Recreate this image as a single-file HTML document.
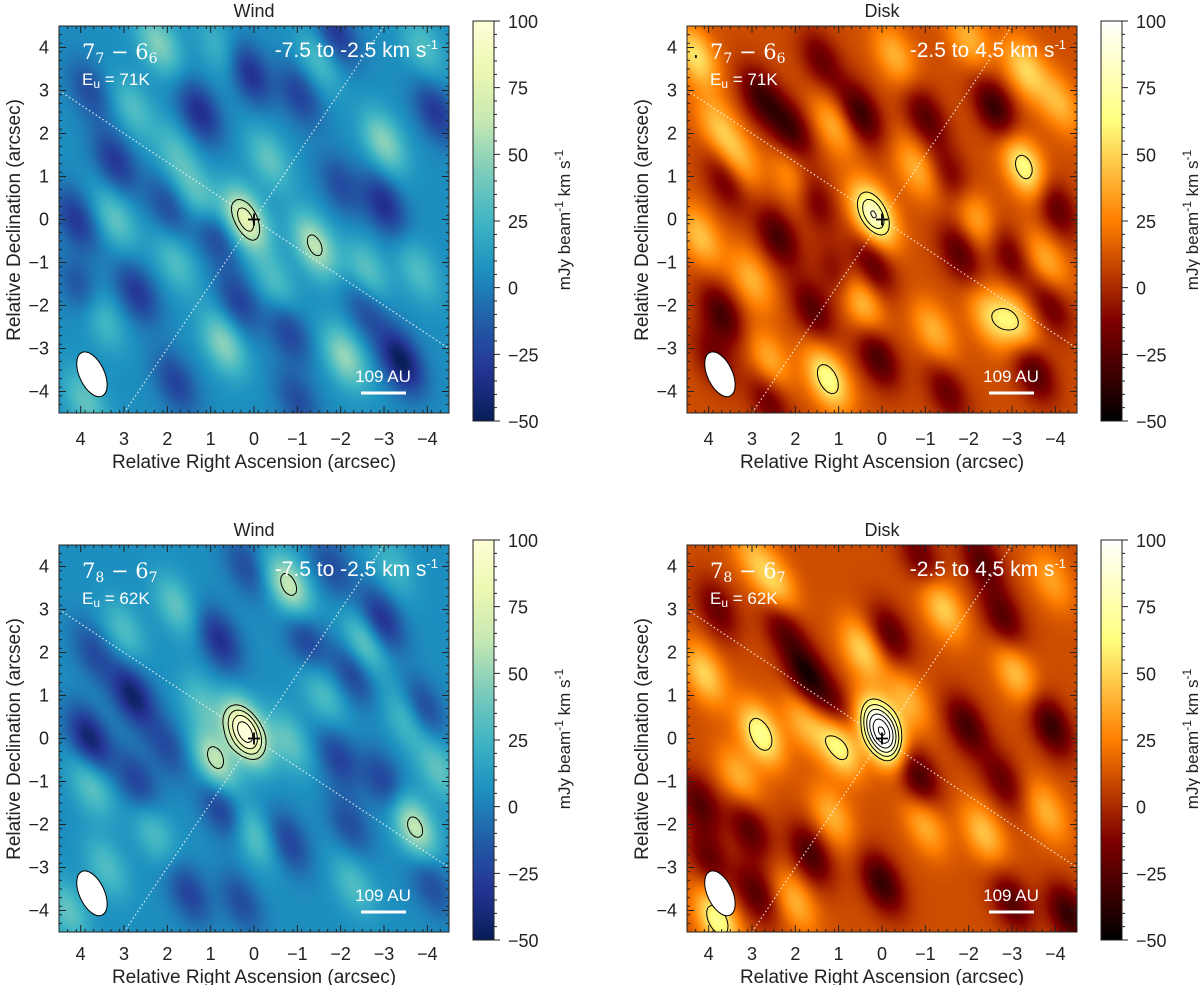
<!DOCTYPE html>
<html><head><meta charset="utf-8">
<style>
body{margin:0;background:#fff;}
#root{position:relative;width:1200px;height:985px;overflow:hidden;font-family:"Liberation Sans",sans-serif;}
canvas{position:absolute;}
svg{position:absolute;left:0;top:0;}
</style></head>
<body>
<div id="root">
<canvas id="c0" width="390" height="387" style="left:59px;top:26px"></canvas>
<canvas id="c1" width="390" height="387" style="left:687px;top:26px"></canvas>
<canvas id="c2" width="390" height="387" style="left:59px;top:545px"></canvas>
<canvas id="c3" width="390" height="387" style="left:687px;top:545px"></canvas>
<canvas id="cb0" width="21" height="400" style="left:473px;top:21px"></canvas>
<canvas id="cb1" width="21" height="400" style="left:1101px;top:21px"></canvas>
<canvas id="cb2" width="21" height="400" style="left:473px;top:540px"></canvas>
<canvas id="cb3" width="21" height="400" style="left:1101px;top:540px"></canvas>
<svg id="ov" width="1200" height="985"></svg>
</div>
<script>
// data: [RA arcsec, Dec arcsec, amplitude mJy]
const windA_base = 5;
const windA_blobs = [[0.2,0,75],[-3.0,1.8,42],[2.2,4.1,40],[0.7,-2.9,42],[-2.1,-3.2,45],[-1.4,-0.6,56],[3.2,0,30],[1.25,0.5,30],[3.9,-4.2,30],[-0.35,1.4,30],
 [1.25,2.5,-40],[0.1,3.4,-40],[3.2,1.35,-35],[-3.0,0.35,-40],[-3.4,-3.3,-55],[4.1,0,-35],[2.7,-1.7,-35],[0.9,-0.35,-30],[0.35,-1.9,-30],[-4.2,2.5,-35],[-1.05,2.9,-30],[-1.9,4.3,-35],
 [1.8,1.5,25],[2.8,2.6,25],[-0.5,-1.5,25],[-2.6,-1.2,30],[3.5,-2.3,25],[-3.8,-1.2,25],[-1.5,3.7,25],[0.8,4.0,20],[-3.9,4.0,25],[1.8,-1.0,25],
 [2.0,0.3,-25],[-2.0,0.8,-25],[-0.8,-2.6,-30],[1.8,-3.8,-30],[-2.6,-2.1,-25],[3.8,3.0,-25],[4.0,-1.6,-25],[-1.0,-4.2,-25]];
const diskA_base = 10;
const diskA_blobs = [[0.2,0.1,78],[4.3,3.8,45],[1.25,-3.7,57],[0.5,-1.9,40],[-3.1,-2.4,45],[-3.3,1.2,58],[4.2,-0.4,35],[3.3,1.4,30],[1.1,2.2,30],[-3.3,3.5,40],[-2.5,-2.3,35],
 [0.5,2.45,-45],[2.1,2.1,-40],[2.8,2.85,-40],[1.6,0.5,-35],[2.4,-0.4,-40],[3.7,-2.2,-40],[0.1,-3.2,-40],[-2.6,2.6,-45],[-1.0,2.4,-35],[0.2,-1.05,-35],[-1.8,-0.8,-35],[1.4,3.7,-30],[1.6,-2.1,-35],[-3.5,-3.5,-40],[-4.0,0.3,-35],
 [3.8,2.2,30],[2.0,0.9,30],[-0.8,1.2,30],[-2.2,0.0,30],[-1.2,-2.6,30],[2.6,-3.3,30],[-3.8,-1.0,30],[3.0,-1.4,30],[-0.3,3.8,30],[-2.0,4.2,30],[-4.1,2.7,30],
 [3.6,0.9,-30],[-2.9,-0.8,-30],[-1.5,-4.0,-30],[2.6,-4.2,-30],[-3.9,-2.0,-30],[3.9,-3.2,-25],[-1.6,1.0,-25],[1.0,-1.3,-25]];
const windB_base = 5;
const windB_blobs = [[0.2,0.15,105],[0.9,-0.55,58],[-0.8,3.55,60],[-3.7,-2.05,60],[1.8,3.1,30],[3.75,-1.1,30],[-2.55,2.2,35],[-0.8,-0.05,30],[0,-2.25,30],[-4.25,-0.7,30],[4.3,-4.0,30],
 [2.8,1.0,-50],[3.8,0,-50],[0.8,2.3,-40],[-2.95,2.75,-40],[-2.3,1.5,-30],[0.75,-1.6,-35],[2.7,-1.0,-30],[-0.8,-2.4,-30],[1.5,-3.6,-30],[-3.9,0.7,-30],[-1.95,-0.45,-30],
 [3.0,2.5,25],[-1.6,1.0,25],[-3.5,0.5,25],[2.3,-2.2,25],[-2.3,-3.4,25],[1.2,0.8,25],[3.4,-3.0,25],[-3.2,4.0,20],
 [-1.2,2.3,-30],[2.0,-0.2,-25],[-3.0,-1.0,-30],[3.7,2.0,-25],[-2.2,-2.0,-25],[0.3,-3.8,-25],[-4.1,-3.4,-25],[0.2,4.0,-25],[-1.8,4.0,-25]];
const diskB_base = 10;
const diskB_blobs = [[0,0.15,125],[2.8,0.1,58],[1,-0.15,57],[3.8,-4.2,58],[0.45,2.05,40],[2.45,3.5,40],[-1.4,3.05,40],[4.1,1.5,40],[-3.1,1.5,35],[-2.35,-2.2,35],[1.15,-1.8,30],
 [1.75,1.5,-50],[-0.8,-0.85,-45],[-1.95,0.3,-40],[-3.9,0.3,-45],[0,-3.35,-45],[-4.3,-4.1,-45],[2.3,2.65,-35],[-0.2,2.4,-35],[-2.3,4.15,-35],[3.05,-2.1,-35],[1.65,-2.7,-40],[4.2,-1.5,-35],
 [3.3,-0.9,30],[-1.0,-2.0,30],[2.0,-3.8,30],[-3.8,-1.7,30],[-3.9,3.7,25],[3.0,4.3,25],[-0.6,0.9,30],[1.8,0.4,30],
 [-2.8,2.8,-35],[-0.9,4.2,-30],[-3.0,-3.8,-35],[2.9,-3.6,-35],[3.8,3.0,-30],[1.1,0.7,-30],[-2.8,-1.0,-30],[4.0,-2.8,-30]];
const xTicks = [4,3,2,1,0,-1,-2,-3,-4];
const yTicks = [4,3,2,1,0,-1,-2,-3,-4];
const cbTicks = [100,75,50,25,0,-25,-50];
const contourLevels = [55,70,85,100,115,130];

const panels = [
 {base:windA_base,blobs:windA_blobs,cmap:'wind',ox:0,oy:0,lo:0,title:'Wind',tr:['7','7','6','6'],eu:'71',vel:'-7.5 to -2.5 km s'},
 {base:diskA_base,blobs:diskA_blobs,cmap:'disk',ox:628,oy:0,lo:0,title:'Disk',tr:['7','7','6','6'],eu:'71',vel:'-2.5 to 4.5 km s'},
 {base:windB_base,blobs:windB_blobs,cmap:'wind',ox:0,oy:519,lo:-4,title:'Wind',tr:['7','8','6','7'],eu:'62',vel:'-7.5 to -2.5 km s'},
 {base:diskB_base,blobs:diskB_blobs,cmap:'disk',ox:628,oy:519,lo:-4,title:'Disk',tr:['7','8','6','7'],eu:'62',vel:'-2.5 to 4.5 km s'}];

const PX0=59, PY0=26, PW=390, PH=387;
function xs(ra){return PX0 + (4.5-ra)/9*PW;}
function ys(dec){return PY0 + (4.5-dec)/9*PH;}
const vmin=-50, vmax=100;
const ylgnbu=['#ffffd9','#edf8b1','#c7e9b4','#7fcdbb','#41b6c4','#1d91c0','#225ea8','#253494','#081d58'].map(h=>[parseInt(h.slice(1,3),16),parseInt(h.slice(3,5),16),parseInt(h.slice(5,7),16)]);
function cmap(name,v){
  let t=Math.max(0,Math.min(1,(v-vmin)/(vmax-vmin)));
  if(name==='disk'){const c=x=>Math.round(255*Math.max(0,Math.min(1,x)));return [c(2*t),c(2*t-0.5),c(2*t-1)];}
  let s=(1-t)*8; let i=Math.min(7,Math.floor(s)); let f=s-i;
  const a=ylgnbu[i],b=ylgnbu[i+1];
  return [a[0]+(b[0]-a[0])*f,a[1]+(b[1]-a[1])*f,a[2]+(b[2]-a[2])*f];
}
const th=25*Math.PI/180, SN=Math.sin(th), CS=Math.cos(th), SM=0.55, SMi=0.3;
function field(p,ra,dec){
  let v=p.base;
  for(const b of p.blobs){
    const dx=-(ra-b[0]), dy=-(dec-b[1]);
    const u=dx*SN+dy*CS, w=dx*CS-dy*SN;
    v+=b[2]*Math.exp(-0.5*(u*u/(SM*SM)+w*w/(SMi*SMi)));
  }
  return v;
}
const NS='http://www.w3.org/2000/svg';
const ov=document.getElementById('ov');
function el(tag,attrs,parent){const e=document.createElementNS(NS,tag);for(const k in attrs)e.setAttribute(k,attrs[k]);(parent||ov).appendChild(e);return e;}

panels.forEach((p,pi)=>{
  const cv=document.getElementById('c'+pi), ctx=cv.getContext('2d');
  const img=ctx.createImageData(PW,PH);
  for(let j=0;j<PH;j++)for(let i=0;i<PW;i++){
    const ra=4.5-(i+0.5)/PW*9, dec=4.5-(j+0.5)/PH*9;
    const c=cmap(p.cmap,field(p,ra,dec)); const k=(j*PW+i)*4;
    img.data[k]=c[0];img.data[k+1]=c[1];img.data[k+2]=c[2];img.data[k+3]=255;
  }
  ctx.putImageData(img,0,0);
  const cb=document.getElementById('cb'+pi), cc=cb.getContext('2d');
  for(let j=0;j<400;j++){const v=vmax-(j+0.5)/400*(vmax-vmin);const c=cmap(p.cmap,v);cc.fillStyle=`rgb(${c[0]|0},${c[1]|0},${c[2]|0})`;cc.fillRect(0,j,21,1);}

  const g=el('g',{transform:`translate(${p.ox},${p.oy})`});
  
  
  const l1=el('line',{x1:xs(4.5),y1:ys(3),x2:xs(-4.5),y2:ys(-3),stroke:'#fff','stroke-width':1.2,'stroke-dasharray':'1.5 2.5',opacity:0.85},g);
  
  
  const l2=el('line',{x1:xs(3),y1:ys(-4.5),x2:xs(-3),y2:ys(4.5),stroke:'#fff','stroke-width':1.2,'stroke-dasharray':'1.5 2.5',opacity:0.85},g);
  
  
  const step=3, nx=Math.ceil(PW/step)+1, ny=Math.ceil(PH/step)+1;
  const F=[];for(let j=0;j<ny;j++){F[j]=[];for(let i=0;i<nx;i++)F[j][i]=field(p,4.5-i*step/PW*9,4.5-j*step/PH*9);}
  contourLevels.forEach(L=>{
    let d='';
    for(let j=0;j<ny-1;j++)for(let i=0;i<nx-1;i++){
      const a=F[j][i],b=F[j][i+1],c=F[j+1][i+1],e=F[j+1][i];
      const pts=[];
      const X=i*step+PX0,Y=j*step+PY0;
      if((a>L)!=(b>L))pts.push([X+step*(L-a)/(b-a),Y]);
      if((b>L)!=(c>L))pts.push([X+step,Y+step*(L-b)/(c-b)]);
      if((e>L)!=(c>L))pts.push([X+step*(L-e)/(c-e),Y+step]);
      if((a>L)!=(e>L))pts.push([X,Y+step*(L-a)/(e-a)]);
      if(pts.length>=2)d+=`M${pts[0][0].toFixed(1)},${pts[0][1].toFixed(1)}L${pts[1][0].toFixed(1)},${pts[1][1].toFixed(1)}`;
      if(pts.length==4)d+=`M${pts[2][0].toFixed(1)},${pts[2][1].toFixed(1)}L${pts[3][0].toFixed(1)},${pts[3][1].toFixed(1)}`;
    }
    if(d){const pa=el('path',{d:d,stroke:'#000','stroke-width':1,fill:'none'},g);
      
      }
  });
  const pl=el('path',{d:`M${xs(0)-6},${ys(0)}h12M${xs(0)},${ys(0)-6}v12`,stroke:'#000','stroke-width':1.8},g);
  
  
  const bm=el('ellipse',{cx:xs(3.74),cy:ys(-3.6),rx:12.5,ry:24,fill:'#fff',stroke:'#000','stroke-width':1,transform:`rotate(-25 ${xs(3.74)} ${ys(-3.6)})`},g);
  
  
  const sb=el('line',{x1:361,y1:393,x2:406,y2:393,stroke:'#fff','stroke-width':3},g);
  
  
  const st=el('text',{x:383,y:382,'text-anchor':'middle',fill:'#fff','font-size':17},g);st.textContent='109 AU';
  
  
  const tl=el('text',{x:82,y:59,fill:'#fff','font-size':21,'font-family':'"DejaVu Serif","Liberation Serif",serif'},g);
  tl.innerHTML=`${p.tr[0]}<tspan font-size="14" dy="4">${p.tr[1]}</tspan><tspan dy="-4"> − ${p.tr[2]}</tspan><tspan font-size="14" dy="4">${p.tr[3]}</tspan>`;
  
  
  const eu=el('text',{x:82,y:85,fill:'#fff','font-size':17},g);
  eu.innerHTML=`E<tspan font-size="12" dy="3">u</tspan><tspan dy="-3"> = ${p.eu}K</tspan>`;
  
  
  const vl=el('text',{x:438,y:57,'text-anchor':'end',fill:'#fff','font-size':21},g);
  vl.innerHTML=`${p.vel}<tspan font-size="13" dy="-8">-1</tspan>`;
  
  
  const fr=el('rect',{x:PX0,y:PY0,width:PW,height:PH,fill:'none',stroke:'#222','stroke-width':1},g);
  
  
  let td='';
  for(let k=-45;k<=45;k+=2){const v=k/10;const x=xs(v),y=ys(v);const len=3;
    td+=`M${x},${PY0+PH}v${-len}M${x},${PY0}v${len}M${PX0},${y}h${len}M${PX0+PW},${y}h${-len}`;}
  for(const v of xTicks){const x=xs(v);td+=`M${x},${PY0+PH}v-7M${x},${PY0}v7`;}
  for(const v of yTicks){const y=ys(v);td+=`M${PX0},${y}h7M${PX0+PW},${y}h-7`;}
  const tk=el('path',{d:td,stroke:'#222','stroke-width':1},g);
  
  
  xTicks.forEach(v=>{const t=el('text',{x:xs(v),y:445+p.lo,'text-anchor':'middle','font-size':18,fill:'#222'},g);t.textContent=v<0?'−'+(-v):v;
    
    });
  yTicks.forEach(v=>{const t=el('text',{x:PX0-10,y:ys(v)+6,'text-anchor':'end','font-size':18,fill:'#222'},g);t.textContent=v<0?'−'+(-v):v;
    
    });
  const xl=el('text',{x:254,y:468+p.lo,'text-anchor':'middle','font-size':19,fill:'#222'},g);xl.textContent='Relative Right Ascension (arcsec)';
  
  
  const yl=el('text',{x:0,y:0,'text-anchor':'middle','font-size':19,fill:'#222',transform:`translate(20,220) rotate(-90)`},g);yl.textContent='Relative Declination (arcsec)';
  
  
  const ti=el('text',{x:254,y:17,'text-anchor':'middle','font-size':18,fill:'#222'},g);ti.textContent=p.title;
  
  
  const cf=el('rect',{x:473,y:21,width:21,height:400,fill:'none',stroke:'#222','stroke-width':1},g);
  
  
  const cy=v=>21+(vmax-v)/(vmax-vmin)*400;
  let cd='';
  for(let v=-50;v<=100;v+=5){cd+=`M494,${cy(v)}h${v%25===0?6:3}`;}
  const ct=el('path',{d:cd,stroke:'#222','stroke-width':1},g);
  
  
  cbTicks.forEach(v=>{const t=el('text',{x:508,y:cy(v)+7,'font-size':18,fill:'#222'},g);t.textContent=v<0?'−'+(-v):v;
    
    });
  const cl=el('text',{x:0,y:0,'text-anchor':'middle','font-size':17,fill:'#222',transform:`translate(570,220) rotate(-90)`},g);
  cl.innerHTML='mJy beam<tspan font-size="12" dy="-7">-1</tspan><tspan dy="7"> km s</tspan><tspan font-size="12" dy="-7">-1</tspan>';
  
  
});
</script>
</body></html>
